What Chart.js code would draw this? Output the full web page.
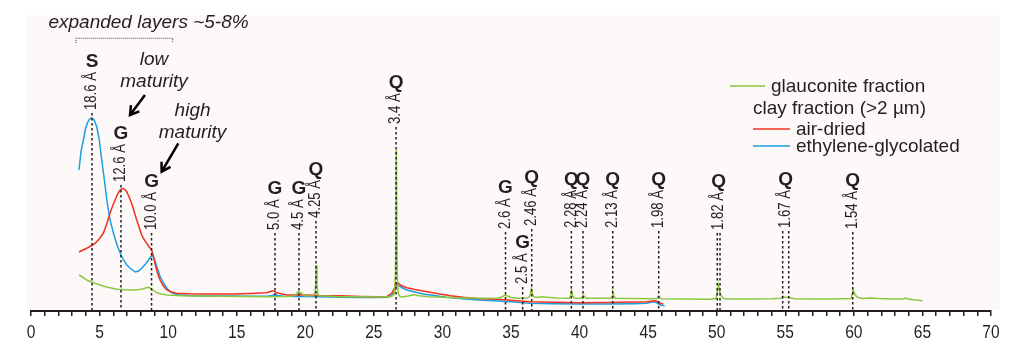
<!DOCTYPE html>
<html>
<head>
<meta charset="utf-8">
<script src="https://cdn.jsdelivr.net/npm/chart.js@4/dist/chart.umd.min.js"></script>
<style>
  html, body { margin: 0; padding: 0; background: #ffffff; }
  #wrap { position: relative; width: 1009px; height: 342px; }
</style>
</head>
<body>
<div id="wrap"><canvas id="xrd" width="1009" height="342"></canvas></div>
<script>
// X-ray diffraction patterns, intensity (arbitrary units) against 2θ (°)

// glauconite fraction
const glauconite = [
  [3.5,36],[3.8,33.5],[4.06,31],[4.5,28.5],[5.03,26],[5.6,23.8],[6.25,21.7],[6.85,21.2],[7.46,21],[7.9,21.6],
  [8.19,22.3],[8.4,23.2],[8.55,23.7],[8.68,23],[8.8,21.7],[9.0,20],[9.17,18.3],[9.5,17],[9.9,16],[11,15.3],
  [12.32,15],[14,14.7],[15.5,14.5],[17.19,14.3],[18.5,14.5],[19.13,15],[19.35,17.5],[19.49,19.3],[19.62,18.5],[19.74,17.7],
  [19.9,16],[20.1,15],[20.58,15.3],[20.7,18],[20.76,27.7],[20.8,46],[20.85,27.7],[20.92,17],[21.0,15.3],[22.53,14.3],
  [24,14.2],[25.5,14],[26.3,14.5],[26.5,17],[26.58,40],[26.64,161],[26.7,40],[26.78,17],[26.9,14.5],[27.1,14],
  [27.5,15],[27.9,16.3],[28.3,15.2],[29,14.3],[30,13.7],[31.5,13],[33,12.7],[34.1,13],[34.4,14.5],[34.57,16],
  [34.75,15],[35.0,13.5],[35.5,12.8],[36.2,13],[36.38,15],[36.48,21.7],[36.58,16],[36.7,14],[37.0,13.8],[37.24,14.3],
  [37.6,13.8],[38.3,13],[39.25,12.8],[39.35,15],[39.42,20.3],[39.5,15],[39.6,13],[40.1,12.8],[40.2,14],[40.27,16],
  [40.36,14],[40.5,12.8],[41.5,12.7],[42.3,12.7],[42.37,15],[42.43,18.3],[42.5,15],[42.6,12.8],[44,12.5],[45.6,12.3],
  [45.7,13.5],[45.78,15],[45.86,13.5],[46,12.2],[47.5,12],[49.5,11.8],[49.95,12.5],[50.05,20],[50.12,26],[50.18,22],
  [50.25,18],[50.35,15],[50.5,12.5],[51,12],[52.5,12],[54,12.2],[54.7,12.8],[54.82,15],[54.9,14],[55.05,13.4],
  [55.25,14],[55.4,13],[55.7,12.3],[57,12],[58.5,12],[59.8,12.5],[59.87,17],[59.93,21],[60.0,19.5],[60.1,16],
  [60.3,13.5],[60.6,12.5],[61.2,13],[61.8,12.5],[62.8,12],[63.6,12],[63.8,13],[63.95,12],[64.5,11],[65.0,10.3]
];

// clay fraction (>2 µm), air-dried
const airDried = [
  [3.5,59],[3.8,61],[4.06,62.7],[4.35,65],[4.67,67.7],[4.97,72],[5.27,77.7],[5.5,86],[5.76,97.7],[5.95,105],
  [6.13,111],[6.3,116.5],[6.49,121],[6.69,122.7],[6.85,121.5],[6.98,119.3],[7.15,114],[7.34,107.7],[7.52,99.5],[7.71,91],
  [7.9,83],[8.07,76],[8.25,71.5],[8.44,67.7],[8.62,64],[8.8,61],[8.92,55],[9.04,47.7],[9.2,39],[9.41,31],
  [9.65,25],[9.9,21],[10.25,19],[10.62,17.7],[11.5,17.2],[12.32,17],[13.5,17],[14.73,17],[16,17.5],[17.19,18.3],
  [17.45,19.5],[17.67,20.3],[17.92,18.3],[18.3,17],[18.65,16],[20,16],[21,15.5],[22.5,15.3],[24,14.6],[25.2,14.3],
  [25.94,14.3],[26.3,17.7],[26.55,24],[26.74,28.3],[27.0,25.5],[27.4,23.3],[28.0,21.5],[28.6,20],[29.2,18.5],[29.8,17],
  [30.6,15.3],[31.5,13.7],[32.7,12.3],[33.96,11.7],[35.2,10.5],[36.4,9.3],[38.2,8.7],[40,8.3],[42,8.5],[44,9],
  [44.9,9.3],[45.5,10.3],[45.75,9],[45.9,7.7],[46.1,7]
];

// clay fraction (>2 µm), ethylene-glycolated
const glycolated = [
  [3.5,141],[3.65,160],[3.82,171],[3.97,182],[4.11,188],[4.27,192],[4.43,193],[4.6,191],[4.8,184],[4.98,171],
  [5.16,151],[5.35,131],[5.53,111],[5.75,92],[6.01,78],[6.25,67],[6.5,58],[6.75,51],[6.99,46],[7.3,42],
  [7.6,39],[7.85,40],[8.09,43],[8.35,47],[8.57,51],[8.72,54],[8.86,56],[9.0,52],[9.18,44],[9.4,35],
  [9.66,28],[9.9,23],[10.15,19],[10.5,17],[10.88,16],[11.5,15.5],[12.34,15],[13.5,15],[14.76,15],[16,14.7],
  [17.2,14.8],[17.6,15.5],[17.8,16.5],[18.0,15.5],[18.4,14.7],[19.5,14.5],[21,14.3],[22.5,13.8],[24,13.5],[25.3,13.5],
  [26.0,13.8],[26.3,15.5],[26.5,19],[26.66,27.7],[26.85,25],[27.1,23],[27.4,21],[28.0,19],[28.6,17],[29.4,15.5],
  [30.3,13.7],[31.5,12.3],[32.7,11],[34.0,10],[35.2,9],[36.4,7.7],[38.0,7.3],[40.0,7],[42.0,7],[44.0,7.3],
  [44.9,7.7],[45.4,9.3],[45.6,8.5],[45.9,6],[46.2,5.3]
];

// identified reflections: mineral, d-spacing (Å), 2θ of the reflection line(s)
const peakMineral = ['S','G','G','G','G','Q','Q','G','G','Q','Q','Q','Q','Q','Q','Q','Q'];
const peakD = ['18.6','12.6','10.0','5.0','4.5','4.25','3.4','2.6','2.5','2.46','2.28','2.24','2.13','1.98','1.82','1.67','1.54'];
const peakTheta = [[4.45],[6.56],[8.79],[17.79],[19.54],[20.78],[26.62],[34.6],[35.85],[36.51],[39.4],[40.25],[42.42],[45.77],[50.04,50.24],[54.81,55.25],[59.92]];

// x axis ticks (°2θ)
const xTicks = [0,5,10,15,20,25,30,35,40,45,50,55,60,65,70];

const seriesNames = ['glauconite fraction', 'air-dried', 'ethylene-glycolated'];
const legendHeading = 'clay fraction (>2 µm)';

const INK = '#231f20';
const SANS = '"Liberation Sans", Arial, sans-serif';
const CONDENSE = 0.82;   // horizontal squeeze for the narrow-lettered labels

const toXY = arr => arr.map(p => ({ x: p[0], y: p[1] }));

// text squeezed along its own direction, optionally rotated
function narrowText(ctx, txt, x, y, angle, align, baseline) {
  ctx.save();
  ctx.translate(x, y);
  if (angle) ctx.rotate(angle);
  ctx.scale(CONDENSE, 1);
  ctx.textAlign = align;
  ctx.textBaseline = baseline;
  ctx.fillText(txt, 0, 0);
  ctx.restore();
}

// light panel behind the plot
const panelPlugin = {
  id: 'panel',
  beforeDraw(chart) {
    const { ctx, chartArea } = chart;
    ctx.save();
    ctx.fillStyle = '#ffffff';
    ctx.fillRect(0, 0, chart.width, chart.height);
    ctx.fillStyle = '#fdf9f8';
    ctx.fillRect(chartArea.left - 5, 15, chartArea.right - chartArea.left + 14, chartArea.bottom - 16);
    ctx.restore();
  }
};

// reflection markers, labels, arrows, axis numbers and legend
const notesPlugin = {
  id: 'notes',
  afterDraw(chart, args, opts) {
    const { ctx, chartArea } = chart;
    const xs = chart.scales.x, ys = chart.scales.y;
    const X = v => xs.getPixelForValue(v);
    const Y = v => ys.getPixelForValue(v);
    ctx.save();

    // axis numbers
    ctx.fillStyle = INK;
    ctx.font = '19px ' + SANS;
    xTicks.forEach(v => narrowText(ctx, String(v), X(v), chartArea.bottom + 27, 0, 'center', 'alphabetic'));

    // dotted reflection lines
    ctx.strokeStyle = INK;
    ctx.lineWidth = 1.5;
    ctx.setLineDash([2.5, 2.5]);
    peakTheta.forEach((ths, i) => {
      const top = Y(opts.labelBase[i]) + 3;
      ths.forEach(t => {
        ctx.beginPath();
        ctx.moveTo(X(t), top);
        ctx.lineTo(X(t), chartArea.bottom);
        ctx.stroke();
      });
    });
    ctx.setLineDash([]);

    // rotated d-spacing labels
    ctx.fillStyle = INK;
    ctx.font = '16px ' + SANS;
    const tops = [];
    peakTheta.forEach((ths, i) => {
      const mid = ths.reduce((a, b) => a + b, 0) / ths.length;
      const txt = peakD[i] + ' Å';
      const len = ctx.measureText(txt).width * CONDENSE;
      const yb = Y(opts.labelBase[i]);
      tops.push(yb - len);
      narrowText(ctx, txt, X(mid), yb, -Math.PI / 2, 'left', 'middle');
    });

    // mineral letters
    ctx.font = 'bold 19px ' + SANS;
    ctx.textAlign = 'center';
    ctx.textBaseline = 'alphabetic';
    peakTheta.forEach((ths, i) => {
      const mid = ths.reduce((a, b) => a + b, 0) / ths.length;
      ctx.fillText(peakMineral[i], X(mid), tops[i] - 5);
    });

    // italic notes
    ctx.font = 'italic 19px ' + SANS;
    opts.notes.forEach(n => ctx.fillText(n.text, X(n.x), Y(n.y)));

    // bracket over the expanded-layer reflections
    const b = opts.bracket;
    ctx.strokeStyle = '#444';
    ctx.lineWidth = 1;
    ctx.setLineDash([1, 1]);
    ctx.beginPath();
    ctx.moveTo(X(b.x0), Y(b.y1));
    ctx.lineTo(X(b.x0), Y(b.y0));
    ctx.lineTo(X(b.x1), Y(b.y0));
    ctx.lineTo(X(b.x1), Y(b.y1));
    ctx.stroke();
    ctx.setLineDash([]);

    // arrows
    ctx.strokeStyle = '#000';
    ctx.lineWidth = 2.5;
    opts.arrows.forEach(a => {
      const x0 = X(a.from[0]), y0 = Y(a.from[1]), x1 = X(a.to[0]), y1 = Y(a.to[1]);
      const ang = Math.atan2(y1 - y0, x1 - x0);
      ctx.beginPath();
      ctx.moveTo(x0, y0);
      ctx.lineTo(x1, y1);
      ctx.stroke();
      ctx.beginPath();
      const h = 10, w = 0.55;
      ctx.moveTo(x1 - h * Math.cos(ang - w), y1 - h * Math.sin(ang - w));
      ctx.lineTo(x1, y1);
      ctx.lineTo(x1 - h * Math.cos(ang + w), y1 - h * Math.sin(ang + w));
      ctx.stroke();
    });

    // legend
    const ds = chart.data.datasets;
    const L = opts.legend;
    ctx.font = '19px ' + SANS;
    ctx.textAlign = 'left';
    ctx.textBaseline = 'alphabetic';
    ctx.lineWidth = 1.5;
    const row = (i, xs0, xs1, xt, yl) => {
      ctx.strokeStyle = ds[i].borderColor;
      ctx.beginPath(); ctx.moveTo(xs0, yl); ctx.lineTo(xs1, yl); ctx.stroke();
      ctx.fillStyle = INK;
      ctx.fillText(ds[i].label, xt, yl + 6);
    };
    row(0, L.x, L.x + 35, L.x + 41, L.y);
    ctx.fillStyle = INK;
    ctx.fillText(legendHeading, L.x + 23, L.y + 28);
    row(1, L.x + 23, L.x + 60, L.x + 66, L.y + 43);
    row(2, L.x + 23, L.x + 60, L.x + 66, L.y + 60);

    ctx.restore();
  }
};

const lineStyle = { fill: false, pointRadius: 0, borderWidth: 1.5, tension: 0, spanGaps: true };

new Chart(document.getElementById('xrd'), {
  type: 'line',
  data: {
    datasets: [
      { label: seriesNames[0], data: toXY(glauconite), borderColor: '#8dc63f', order: 0, ...lineStyle },
      { label: seriesNames[1], data: toXY(airDried), borderColor: '#f2311f', order: 1, ...lineStyle },
      { label: seriesNames[2], data: toXY(glycolated), borderColor: '#1c9fe0', order: 2, ...lineStyle }
    ]
  },
  options: {
    responsive: false,
    animation: false,
    events: [],
    layout: { padding: { left: 31, right: 18, top: 11, bottom: 0 } },
    plugins: {
      legend: { display: false },
      tooltip: { enabled: false },
      notes: {
        labelBase: [201,129,81,81,81,93,187,82,27,85,83,83,83,83,81,83,82],
        notes: [
          { text: 'expanded layers ~5-8%', x: 8.57, y: 283 },
          { text: 'low', x: 8.97, y: 246 },
          { text: 'maturity', x: 8.97, y: 224 },
          { text: 'high', x: 11.78, y: 195 },
          { text: 'maturity', x: 11.78, y: 173 }
        ],
        bracket: { x0: 3.28, x1: 10.33, y0: 272.7, y1: 268 },
        arrows: [
          { from: [8.31, 216], to: [7.22, 196] },
          { from: [10.74, 167.7], to: [9.53, 139.3] }
        ],
        legend: { x: 730, y: 86 }
      }
    },
    scales: {
      x: {
        type: 'linear',
        min: 0,
        max: 70,
        afterFit: s => { s.height = 31; },
        afterBuildTicks: s => {
          const t = [];
          for (let v = 0; v <= 70; v++) t.push({ value: v });
          s.ticks = t;
        },
        ticks: {
          autoSkip: false,
          maxRotation: 0,
          callback: () => ''
        },
        grid: { display: true, drawOnChartArea: false, drawTicks: true, tickLength: 5, color: INK, lineWidth: 1.5 },
        border: { display: true, color: INK, width: 2 }
      },
      y: {
        type: 'linear',
        min: 0,
        max: 300,
        display: false
      }
    }
  },
  plugins: [panelPlugin, notesPlugin]
});
</script>
</body>
</html>
